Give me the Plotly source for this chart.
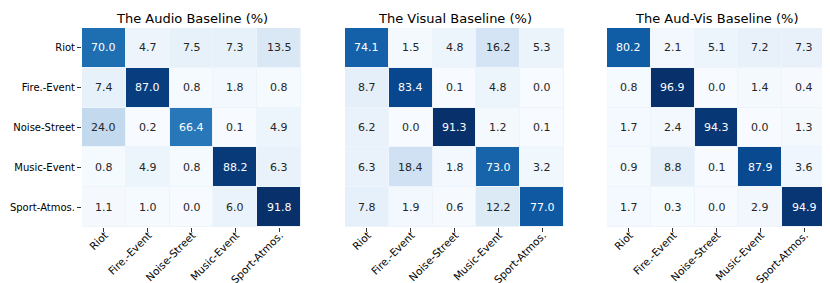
import plotly.graph_objects as go
from plotly.colors import sample_colorscale, unlabel_rgb

labels = ["Riot", "Fire.-Event", "Noise-Street", "Music-Event", "Sport-Atmos."]
titles = ["The Audio Baseline (%)", "The Visual Baseline (%)", "The Aud-Vis Baseline (%)"]

audio = [
    [70.0, 4.7, 7.5, 7.3, 13.5],
    [7.4, 87.0, 0.8, 1.8, 0.8],
    [24.0, 0.2, 66.4, 0.1, 4.9],
    [0.8, 4.9, 0.8, 88.2, 6.3],
    [1.1, 1.0, 0.0, 6.0, 91.8],
]
visual = [
    [74.1, 1.5, 4.8, 16.2, 5.3],
    [8.7, 83.4, 0.1, 4.8, 0.0],
    [6.2, 0.0, 91.3, 1.2, 0.1],
    [6.3, 18.4, 1.8, 73.0, 3.2],
    [7.8, 1.9, 0.6, 12.2, 77.0],
]
audvis = [
    [80.2, 2.1, 5.1, 7.2, 7.3],
    [0.8, 96.9, 0.0, 1.4, 0.4],
    [1.7, 2.4, 94.3, 0.0, 1.3],
    [0.9, 8.8, 0.1, 87.9, 3.6],
    [1.7, 0.3, 0.0, 2.9, 94.9],
]
matrices = [audio, visual, audvis]

W, H = 830, 283
x_domains = [(74, 293), (337, 556), (599, 818)]
y_top, y_bot = 20, 219
FONT = "DejaVu Sans"

fig = go.Figure()


def lum(rgb):
    vals = []
    for c in rgb:
        c = c / 255.0
        vals.append(c / 12.92 if c <= 0.03928 else ((c + 0.055) / 1.055) ** 2.4)
    return 0.2126 * vals[0] + 0.7152 * vals[1] + 0.0722 * vals[2]


annotations = []
for i, (z, title) in enumerate(zip(matrices, titles)):
    ax = "" if i == 0 else str(i + 1)
    zmin = min(min(r) for r in z)
    zmax = max(max(r) for r in z)
    fig.add_trace(go.Heatmap(
        z=z, x=labels, y=labels, colorscale="Blues", zmin=zmin, zmax=zmax,
        showscale=False, xgap=1, ygap=1, hoverinfo="skip",
        xaxis="x" + ax, yaxis="y" + ax,
    ))
    for r, row in enumerate(z):
        for c, v in enumerate(row):
            frac = (v - zmin) / (zmax - zmin)
            col = sample_colorscale("Blues", [frac])[0]
            rgb = unlabel_rgb(col)
            tcol = "#262626" if lum(rgb) > 0.408 else "white"
            annotations.append(dict(
                x=labels[c], y=labels[r], xref="x" + ax, yref="y" + ax,
                text=f"{v:.1f}", showarrow=False,
                font=dict(family=FONT, size=11, color=tcol),
            ))
    x0, x1 = x_domains[i]
    annotations.append(dict(
        x=(x0 + x1) / 2 / W, y=1 - 10 / H, xref="paper", yref="paper",
        text=title, showarrow=False, xanchor="center", yanchor="middle",
        font=dict(family=FONT, size=13, color="black"),
    ))
    fig.update_layout(**{
        "xaxis" + ax: dict(
            domain=[x0 / W, x1 / W], anchor="y" + ax, tickangle=-45,
            ticks="outside", ticklen=4, tickcolor="#333", showgrid=False,
            zeroline=False, showline=False, fixedrange=True, automargin=False,
            ticklabelstandoff=-7, ticklabelshift=1,
            tickfont=dict(family=FONT, size=10.5, color="black"),
        ),
        "yaxis" + ax: dict(
            domain=[1 - y_bot / H, 1 - y_top / H], anchor="x" + ax,
            autorange="reversed", ticks="outside" if i == 0 else "",
            ticklen=4, tickcolor="#333", showticklabels=(i == 0),
            showgrid=False, zeroline=False, showline=False, fixedrange=True,
            automargin=False,
            tickfont=dict(family=FONT, size=10, color="black"),
        ),
    })

fig.update_layout(
    width=W, height=H, margin=dict(l=0, r=0, t=0, b=0),
    paper_bgcolor="white", plot_bgcolor="#eef4fb",
    annotations=annotations, showlegend=False,
)

fig.write_html("out.html")
